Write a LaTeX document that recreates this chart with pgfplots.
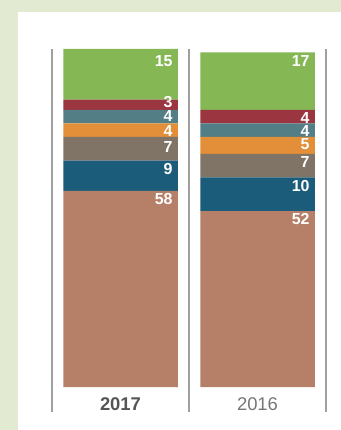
\documentclass[border=0pt]{standalone}
\usepackage{pgfplots}
\pgfplotsset{compat=1.18}
\usepackage{fontspec}
\setmainfont{Liberation Sans}
\definecolor{bgg}{HTML}{E2EBD1}
\definecolor{cgreen}{HTML}{85B755}
\definecolor{cred}{HTML}{9B3540}
\definecolor{cteal}{HTML}{537E85}
\definecolor{corange}{HTML}{E38E38}
\definecolor{cbrown}{HTML}{807466}
\definecolor{cblue}{HTML}{1B5C7A}
\definecolor{csal}{HTML}{B68068}
\definecolor{sepc}{HTML}{A0A0A0}
\definecolor{lab1}{HTML}{555555}
\definecolor{lab2}{HTML}{777777}
\newcommand\labc[4]{\coordinate (#1) at (axis cs:#2,#3);}
\newcommand\labn[2]{\node[anchor=north east, inner sep=0pt, text=white, font=\bfseries\fontsize{16}{16}\selectfont, xshift=52.25bp] at (#1) {#2};}
\begin{document}
\begin{tikzpicture}
\useasboundingbox (0,0) rectangle (341bp,430bp);
\fill[bgg] (0,0) rectangle (341bp,430bp);
\fill[white] (18bp,0) rectangle (341bp,418bp);
\begin{axis}[
 at={(52bp,43bp)}, anchor=south west, scale only axis,
 width=274bp, height=338bp,
 xmin=-0.5, xmax=1.5, ymin=0, ymax=100,
 ybar stacked, bar width=114.5bp,
 axis line style={draw=none},
 ytick=\empty, xtick={0,1},
 xticklabels={{\color{lab1}\bfseries 2017},{\color{lab2}2016}},
 xtick style={draw=none},
 xticklabel style={anchor=base, yshift=-23bp, font=\fontsize{18.5}{20}\selectfont},
 clip=false,
]
\addplot[fill=csal, draw=none] coordinates {(0,58) (1,52)};
\addplot[fill=cblue, draw=none] coordinates {(0,9) (1,10)};
\addplot[fill=cbrown, draw=none] coordinates {(0,7) (1,7)};
\addplot[fill=corange, draw=none] coordinates {(0,4) (1,5)};
\addplot[fill=cteal, draw=none] coordinates {(0,4) (1,4)};
\addplot[fill=cred, draw=none] coordinates {(0,3) (1,4)};
\addplot[fill=cgreen, draw=none] coordinates {(0,15) (1,17)};
\draw[sepc, line width=2bp] (axis cs:-0.5,100) -- (axis cs:-0.5,-7.3);
\draw[sepc, line width=2bp] (axis cs:0.5,100) -- (axis cs:0.5,-7.3);
\draw[sepc, line width=2bp] (axis cs:1.5,100) -- (axis cs:1.5,-7.3);
\coordinate (a1) at (axis cs:0,98.2);
\coordinate (a2) at (axis cs:0,85.9);
\coordinate (a3) at (axis cs:0,82.0);
\coordinate (a4) at (axis cs:0,77.5);
\coordinate (a5) at (axis cs:0,72.6);
\coordinate (a6) at (axis cs:0,66.2);
\coordinate (a7) at (axis cs:0,57.3);
\coordinate (b1) at (axis cs:1,98.2);
\coordinate (b2) at (axis cs:1,81.4);
\coordinate (b3) at (axis cs:1,77.5);
\coordinate (b4) at (axis cs:1,73.6);
\coordinate (b5) at (axis cs:1,68.3);
\coordinate (b6) at (axis cs:1,61.2);
\coordinate (b7) at (axis cs:1,51.4);
\end{axis}
\labn{a1}{15}\labn{a2}{3}\labn{a3}{4}\labn{a4}{4}\labn{a5}{7}\labn{a6}{9}\labn{a7}{58}
\labn{b1}{17}\labn{b2}{4}\labn{b3}{4}\labn{b4}{5}\labn{b5}{7}\labn{b6}{10}\labn{b7}{52}
\end{tikzpicture}
\end{document}
